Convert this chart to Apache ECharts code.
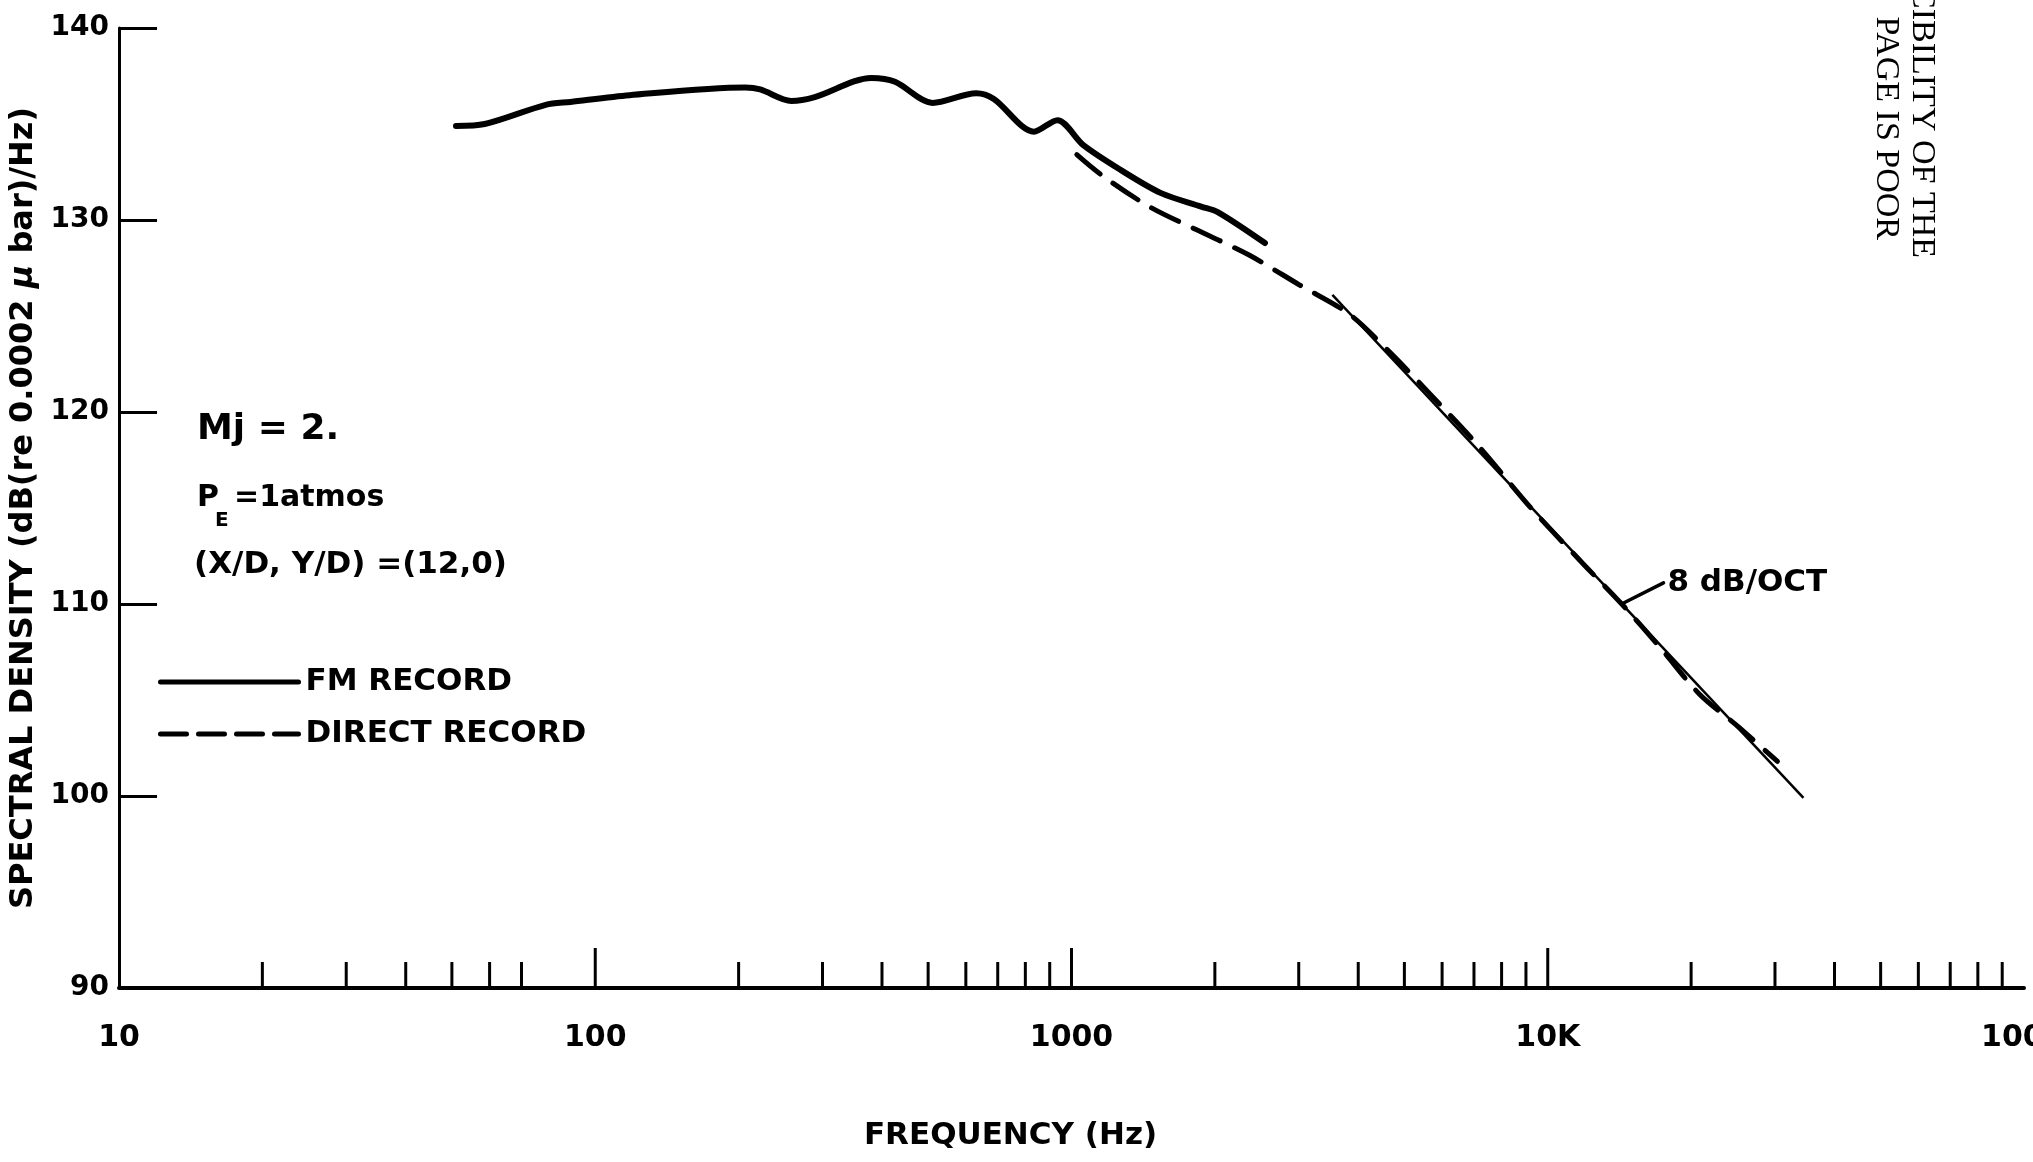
<!DOCTYPE html>
<html>
<head>
<meta charset="utf-8">
<script src="https://cdn.jsdelivr.net/npm/echarts@6/dist/echarts.min.js"></script>
<style>
  html, body { margin: 0; padding: 0; background: #fff; }
  #chart { width: 2033px; height: 1162px; }
</style>
</head>
<body>
<div id="chart"></div>
<script>
// FM record spectrum (Hz, dB)
const freqFM = [51, 58.6, 78.7, 88.7, 118, 206.5, 222, 258, 289, 380, 426, 511, 631, 687, 834, 934, 1059, 1270, 1542, 1872, 2032, 2548];
const dbFM   = [134.9, 135.0, 136.0, 136.15, 136.5, 136.9, 136.8, 136.2, 136.4, 137.4, 137.2, 136.1, 136.6, 136.3, 134.6, 135.2, 133.9, 132.6, 131.4, 130.7, 130.4, 128.8];

// Direct record spectrum (Hz, dB)
const freqDR = [1026, 1162, 1456, 1826, 2349, 3020, 3830, 4623, 5580, 7173, 9220, 11860, 14300, 17260, 20830, 25150, 30360];
const dbDR   = [133.4, 132.3, 130.7, 129.5, 128.2, 126.6, 125.1, 123.2, 121.1, 118.2, 115.0, 112.1, 110.0, 107.7, 105.3, 103.6, 101.8];

// 8 dB/octave reference slope (end points)
const freqSlope = [3530, 34430];
const dbSlope   = [126.1, 99.9];

// leader from the slope line to its label
const freqLeader = [14290, 17500];
const dbLeader   = [110.0, 111.1];

// axis ticks and labels
const xTickValues = [10, 100, 1000, 10000, 100000];
const xTickLabels = ['10', '100', '1000', '10K', '100K'];
const xMajorTicks = [100, 1000, 10000];
const xMinorTicks = [20, 30, 40, 50, 60, 70,
  200, 300, 400, 500, 600, 700, 800, 900,
  2000, 3000, 4000, 5000, 6000, 7000, 8000, 9000,
  20000, 30000, 40000, 50000, 60000, 70000, 80000, 90000];
const yTickValues = [90, 100, 110, 120, 130, 140];

const FONT = 'DejaVu Sans';
const zip = (xs, ys) => xs.map((x, i) => [x, ys[i]]);

const tickData = xMajorTicks.map(f => [f, 90, 1]).concat(xMinorTicks.map(f => [f, 90, 0]));

const chart = echarts.init(document.getElementById('chart'), null, { renderer: 'canvas' });

chart.setOption({
  backgroundColor: '#fff',
  animation: false,
  grid: { left: 119, right: 9, top: 28, bottom: 174, containLabel: false, outerBoundsMode: 'none' },
  xAxis: {
    type: 'log',
    logBase: 10,
    min: xTickValues[0],
    max: xTickValues[xTickValues.length - 1],
    axisLine: { show: true, lineStyle: { color: '#000', width: 4 } },
    axisTick: { show: false },
    splitLine: { show: false },
    minorTick: { show: false },
    axisLabel: {
      color: '#000', fontFamily: FONT, fontWeight: 'bold', fontSize: 30, margin: 35,
      formatter: v => xTickLabels[Math.round(Math.log10(v)) - 1]
    },
    name: 'FREQUENCY (Hz)',
    nameLocation: 'middle',
    nameGap: 132,
    nameTextStyle: { color: '#000', fontFamily: FONT, fontWeight: 'bold', fontSize: 31, padding: [0, 122, 0, 0] }
  },
  yAxis: {
    type: 'value',
    min: yTickValues[0],
    max: yTickValues[yTickValues.length - 1],
    interval: 10,
    axisLine: { show: true, lineStyle: { color: '#000', width: 3 } },
    axisTick: { show: true, inside: true, length: 38, lineStyle: { color: '#000', width: 3 } },
    splitLine: { show: false },
    axisLabel: { color: '#000', fontFamily: FONT, fontWeight: 'bold', fontSize: 28, margin: 10 },
    name: 'SPECTRAL DENSITY (dB(re 0.0002 {mu|μ} bar)/Hz)',
    nameLocation: 'middle',
    nameRotate: 90,
    nameGap: 60,
    nameTextStyle: {
      color: '#000', fontFamily: FONT, fontWeight: 'bold', fontSize: 32,
      rich: { mu: { fontFamily: FONT, fontStyle: 'italic', fontWeight: 'bold', fontSize: 32, color: '#000' } }
    }
  },
  legend: {
    data: [
      { name: 'FM RECORD', lineStyle: { color: '#000', width: 5, type: 'solid' } },
      { name: 'DIRECT RECORD', lineStyle: { color: '#000', width: 5, type: [26, 12] } }
    ],
    orient: 'vertical',
    left: 153,
    top: 659,
    itemWidth: 138,
    itemHeight: 14,
    itemGap: 16,
    itemStyle: { opacity: 0 },
    textStyle: { color: '#000', fontFamily: FONT, fontWeight: 'bold', fontSize: 31, lineHeight: 36, padding: [0, 0, 0, 2] }
  },
  graphic: [
    { type: 'text', left: 197, top: 412, style: { text: 'Mj = 2.', fill: '#000', font: 'bold 36px "DejaVu Sans"' } },
    { type: 'text', left: 197, top: 483, style: { text: 'P', fill: '#000', font: 'bold 30px "DejaVu Sans"' } },
    { type: 'text', left: 215, top: 511, style: { text: 'E', fill: '#000', font: 'bold 20px "DejaVu Sans"' } },
    { type: 'text', left: 234, top: 483, style: { text: '=1atmos', fill: '#000', font: 'bold 30px "DejaVu Sans"' } },
    { type: 'text', left: 194, top: 549, style: { text: '(X/D, Y/D) =(12,0)', fill: '#000', font: 'bold 31px "DejaVu Sans"' } },
    // margin stamp on the scanned sheet
    { type: 'text', x: 1922, y: 258, rotation: -Math.PI / 2,
      style: { text: 'UCIBILITY OF THE', fill: '#000', font: '34px "Liberation Serif"', align: 'right', verticalAlign: 'middle' } },
    { type: 'text', x: 1886, y: 240, rotation: -Math.PI / 2,
      style: { text: 'PAGE IS POOR', fill: '#000', font: '34px "Liberation Serif"', align: 'right', verticalAlign: 'middle' } }
  ],
  series: [
    {
      name: 'ticks',
      type: 'custom',
      silent: true,
      clip: false,
      encode: { x: 0, y: 1 },
      data: tickData,
      renderItem: (params, api) => {
        const p = api.coord([api.value(0), 90]);
        const len = api.value(2) ? 40 : 26;
        return {
          type: 'line',
          shape: { x1: p[0], y1: p[1], x2: p[0], y2: p[1] - len },
          style: { stroke: '#000', lineWidth: 3 }
        };
      }
    },
    {
      name: 'FM RECORD',
      type: 'line',
      data: zip(freqFM, dbFM),
      smooth: 0.3,
      symbol: 'none',
      lineStyle: { color: '#000', width: 6, cap: 'round', join: 'round' },
      itemStyle: { color: '#000' }
    },
    {
      name: 'DIRECT RECORD',
      type: 'line',
      data: zip(freqDR, dbDR),
      smooth: 0.3,
      symbol: 'none',
      lineStyle: { color: '#000', width: 5, type: [30, 16], cap: 'round' },
      itemStyle: { color: '#000' }
    },
    {
      name: '8 dB/OCT line',
      type: 'line',
      data: zip(freqSlope, dbSlope),
      symbol: 'none',
      lineStyle: { color: '#000', width: 2.5 }
    },
    {
      name: '8 dB/OCT label',
      type: 'line',
      data: zip(freqLeader, dbLeader),
      symbol: 'none',
      lineStyle: { color: '#000', width: 3.5, cap: 'round' },
      endLabel: {
        show: true,
        formatter: '8 dB/OCT',
        color: '#000', fontFamily: FONT, fontWeight: 'bold', fontSize: 31, distance: 4
      }
    }
  ]
});
</script>
</body>
</html>
